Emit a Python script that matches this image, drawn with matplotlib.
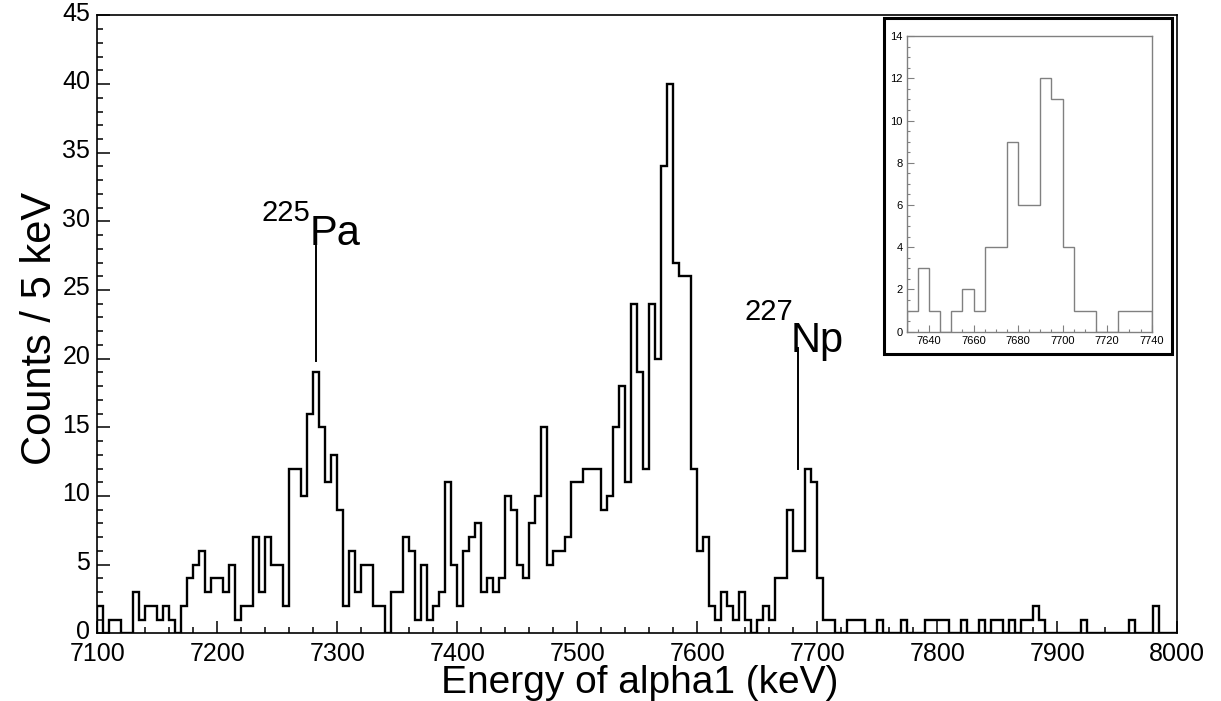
import numpy as np
import matplotlib
matplotlib.use('Agg')
import matplotlib.pyplot as plt
import matplotlib.transforms as mtransforms
from matplotlib.patches import Rectangle
from matplotlib.ticker import MultipleLocator

plt.rcParams['font.family'] = ['Liberation Sans', 'DejaVu Sans']

# histogram: 5 keV bins from 7100 to 8000 keV
e_min, e_max, bin_width = 7100, 8000, 5
counts = [2, 0, 1, 1, 0, 0, 3, 1, 2, 2,          # 7100-7145
          1, 2, 1, 0, 2, 4, 5, 6, 3, 4,          # 7150-7195
          4, 3, 5, 1, 2, 2, 7, 3, 7, 5,          # 7200-7245
          5, 2, 12, 12, 10, 16, 19, 15, 11, 13,  # 7250-7295
          9, 2, 6, 3, 5, 5, 2, 2, 0, 3,          # 7300-7345
          3, 7, 6, 1, 5, 1, 2, 3, 11, 5,         # 7350-7395
          2, 6, 7, 8, 3, 4, 3, 4, 10, 9,         # 7400-7445
          5, 4, 8, 10, 15, 5, 6, 6, 7, 11,       # 7450-7495
          11, 12, 12, 12, 9, 10, 15, 18, 11, 24, # 7500-7545
          19, 12, 24, 20, 34, 40, 27, 26, 26, 12,# 7550-7595
          6, 7, 2, 1, 3, 2, 1, 3, 1, 0,          # 7600-7645
          1, 2, 1, 4, 4, 9, 6, 6, 12, 11,        # 7650-7695
          4, 1, 1, 0, 0, 1, 1, 1, 0, 0,          # 7700-7745
          1, 0, 0, 0, 1, 0, 0, 0, 1, 1,          # 7750-7795
          1, 1, 0, 0, 1, 0, 0, 1, 0, 1,          # 7800-7845
          1, 0, 1, 0, 1, 1, 2, 1, 0, 0,          # 7850-7895
          0, 0, 0, 0, 1, 0, 0, 0, 0, 0,          # 7900-7945
          0, 0, 1, 0, 0, 0, 2, 0, 0, 0]          # 7950-7995
edges = np.arange(e_min, e_max + bin_width, bin_width)

# zoomed range shown in the inset
inset_lo, inset_hi = 7630, 7740
i0 = (inset_lo - e_min) // bin_width
i1 = (inset_hi - e_min) // bin_width

fig = plt.figure(figsize=(12.21, 7.01), dpi=100)
ax = fig.add_axes([0.0797, 0.0966, 0.8845, 0.8814])
ax.stairs(counts, edges, color='black', lw=1.7, baseline=0)
ax.set_xlim(e_min, e_max)
ax.set_ylim(0, 45)
ax.xaxis.set_major_locator(MultipleLocator(100))
ax.xaxis.set_minor_locator(MultipleLocator(20))
ax.yaxis.set_major_locator(MultipleLocator(5))
ax.yaxis.set_minor_locator(MultipleLocator(1))
ax.tick_params(which='both', direction='in', top=False, right=False, labelsize=18, width=1.1)
ax.tick_params(axis='x', pad=6.5)
ax.tick_params(axis='y', pad=5)
ax.tick_params(which='major', length=9)
ax.tick_params(which='minor', length=4.5)
for s in ax.spines.values():
    s.set_linewidth(1.2)
# nudge y labels up a hair so "0" and "7100" don't collide
lift = mtransforms.ScaledTranslation(0, 3 / 72, fig.dpi_scale_trans)
for lab in ax.get_yticklabels():
    lab.set_transform(lab.get_transform() + lift)

fig.text(0.524, 0.051, 'Energy of alpha1 (keV)', fontsize=28, ha='center', va='top')
fig.text(0.033, 0.532, 'Counts / 5 keV', fontsize=30, rotation=90, ha='center', va='center')

# peak labels (mass number as a raised, smaller text)
ax.text(7237, 30.0, '225', fontsize=21, ha='left', va='baseline')
ax.text(7277, 28.3, 'Pa', fontsize=30, ha='left', va='baseline')
ax.plot([7282.5, 7282.5], [19.8, 28.2], color='black', lw=1.4)
ax.text(7639, 22.8, '227', fontsize=21, ha='left', va='baseline')
ax.text(7678, 20.5, 'Np', fontsize=30, ha='left', va='baseline')
ax.plot([7684, 7684], [12.0, 20.8], color='black', lw=1.4)

# inset frame
fig.patches.append(Rectangle((0.724, 0.495), 0.2359, 0.479, transform=fig.transFigure,
                             facecolor='white', edgecolor='black', lw=2.2, zorder=1))

axi = fig.add_axes([0.7426, 0.5268, 0.2006, 0.4218], zorder=3)
axi.stairs(counts[i0:i1], edges[i0:i1 + 1], color='#808080', lw=1.0, baseline=0)
axi.set_xlim(inset_lo, inset_hi)
axi.set_ylim(0, 14)
axi.xaxis.set_major_locator(MultipleLocator(20))
axi.xaxis.set_minor_locator(MultipleLocator(5))
axi.yaxis.set_major_locator(MultipleLocator(2))
axi.yaxis.set_minor_locator(MultipleLocator(0.5))
axi.tick_params(which='both', direction='in', top=False, right=False, labelsize=8,
                color='#808080', width=0.8, pad=3)
axi.tick_params(which='major', length=5)
axi.tick_params(which='minor', length=2.5)
for s in axi.spines.values():
    s.set_color('#808080')
    s.set_linewidth(1.0)

plt.savefig('out.png', dpi=100)
